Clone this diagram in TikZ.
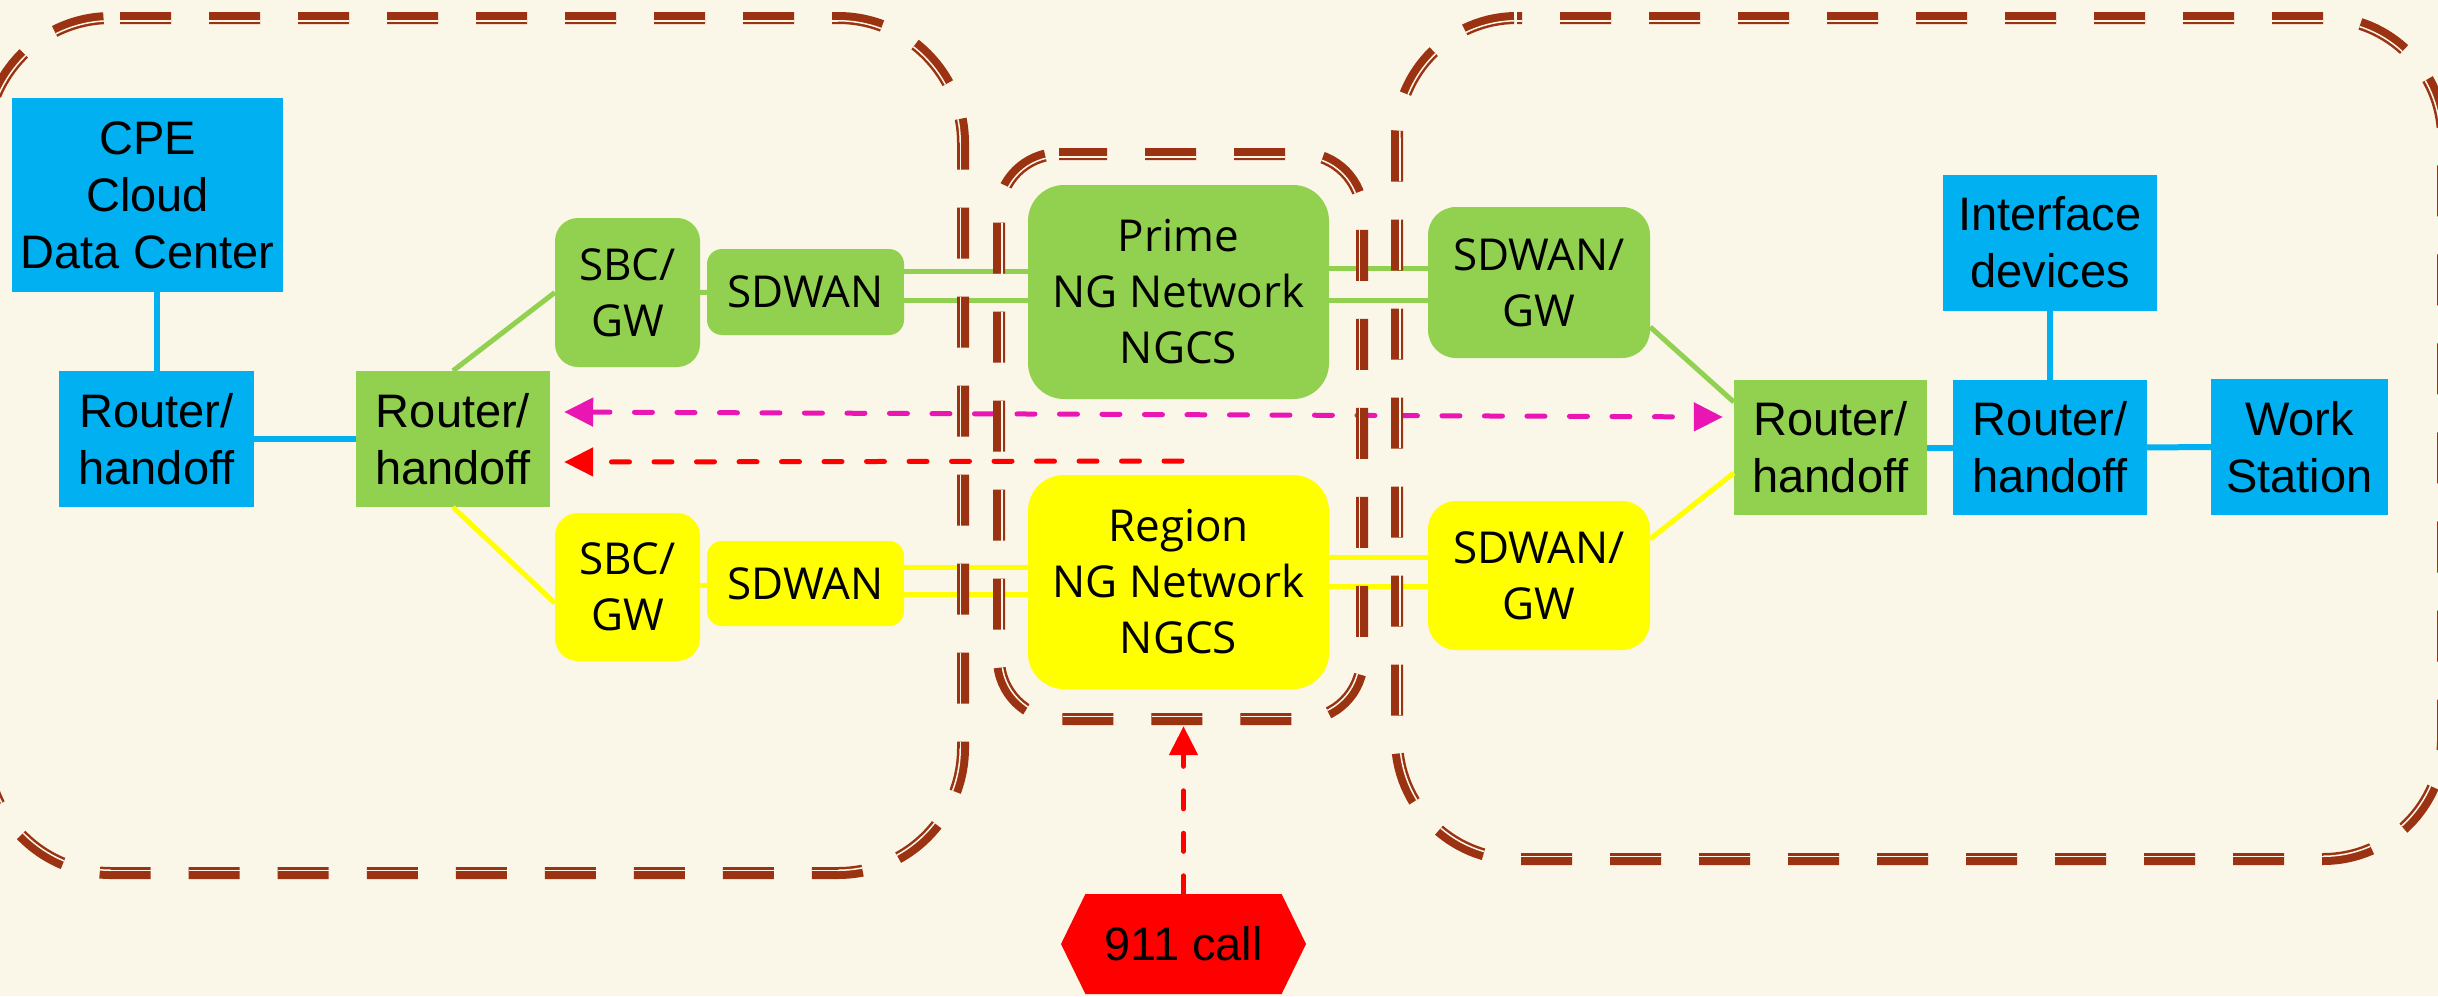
\documentclass[tikz,border=0pt]{standalone}
\usepackage{fontspec}
\usetikzlibrary{arrows.meta, shapes.symbols}
\newfontfamily\arialfont{Liberation Sans}
\newfontfamily\ngfont{Open Sans}
\newcommand\arialtext{\arialfont\fontsize{47pt}{57pt}\selectfont}
\newcommand\ngtext{\ngfont\fontsize{44pt}{56pt}\selectfont}

\definecolor{cream}{RGB}{250,246,232}
\definecolor{rimbrown}{RGB}{155,50,18}
\definecolor{cpeblue}{RGB}{0,176,240}
\definecolor{nggreen}{RGB}{146,208,80}
\definecolor{ngyellow}{RGB}{255,255,0}
\definecolor{pathpink}{RGB}{234,22,180}
\definecolor{callred}{RGB}{255,0,0}

% thin inner line of the thick-thin dashed rims, one side or bend at a time
\newcommand\ngstripe[2]{%
  \pgfmathsetmacro\frP{mod(#2,89)}%
  \draw[rimstripe, dash phase=\frP pt] #1;}
\newcommand\ngbend[4]{%
  \pgfmathsetmacro\frP{mod(#4,89)*\frK}%
  \pgfmathsetmacro\frOn{51*\frK}%
  \pgfmathsetmacro\frOff{38*\frK}%
  \draw[rimstripe, dash pattern=on \frOn pt off \frOff pt, dash phase=\frP pt]
    #1 arc[start angle=#2, end angle=#3, radius=\frR pt];}
% #1,#2 top left, #3,#4 bottom right, #5 corner radius, #6 dash phase
\newcommand\ngframe[6]{%
  \pgfmathsetmacro\frW{#3-#1-2*#5}%
  \pgfmathsetmacro\frH{#4-#2-2*#5}%
  \pgfmathsetmacro\frQ{#5*pi/2}%
  \pgfmathsetmacro\frR{#5-2.75}%
  \pgfmathsetmacro\frK{\frR/#5}%
  \draw[rimline, dash phase=#6pt] (#1+#5,#2) -- (#3-#5,#2)
    arc[start angle=90, end angle=0, radius=#5pt] -- (#3,#4-#5)
    arc[start angle=0, end angle=-90, radius=#5pt] -- (#1+#5,#4)
    arc[start angle=-90, end angle=-180, radius=#5pt] -- (#1,#2+#5)
    arc[start angle=180, end angle=90, radius=#5pt] -- cycle;
  \ngstripe{(#1+#5,#2+2.75) -- (#3-#5,#2+2.75)}{#6}%
  \ngbend{(#3-#5,#2+2.75)}{90}{0}{#6+\frW}%
  \ngstripe{(#3-2.75,#2+#5) -- (#3-2.75,#4-#5)}{#6+\frW+\frQ}%
  \ngbend{(#3-2.75,#4-#5)}{0}{-90}{#6+\frW+\frQ+\frH}%
  \ngstripe{(#3-#5,#4-2.75) -- (#1+#5,#4-2.75)}{#6+\frW+2*\frQ+\frH}%
  \ngbend{(#1+#5,#4-2.75)}{-90}{-180}{#6+2*\frW+2*\frQ+\frH}%
  \ngstripe{(#1+2.75,#4-#5) -- (#1+2.75,#2+#5)}{#6+2*\frW+3*\frQ+\frH}%
  \ngbend{(#1+2.75,#2+#5)}{180}{90}{#6+2*\frW+3*\frQ+2*\frH}%
}

\begin{document}
\begin{tikzpicture}[x=1pt, y=-1pt,
    box/.style={draw=none, inner sep=0pt, align=center},
    cpebox/.style={box, fill=cpeblue, font=\arialtext},
    hubbox/.style={box, fill=nggreen, font=\arialtext},
    primebox/.style={box, fill=nggreen, font=\ngtext},
    regionbox/.style={box, fill=ngyellow, font=\ngtext},
    cpelink/.style={draw=cpeblue, line width=6pt},
    greenlink/.style={draw=nggreen, line width=5pt},
    yellowlink/.style={draw=ngyellow, line width=5pt},
    trunk/.style={double=cream, double distance=#1},
    pinkarrow/.style={draw=pathpink, line width=5pt, line cap=round,
      dash pattern=on 18pt off 24.5pt, >={Triangle[length=29pt, width=28pt]}},
    callarrow/.style={pinkarrow, draw=callred},
    rimline/.style={draw=rimbrown, line width=12pt, dash pattern=on 51pt off 38pt},
    rimstripe/.style={draw=cream, line width=1.5pt, dash pattern=on 51pt off 38pt}]
  \useasboundingbox (0,0) rectangle (2438,996);
  \fill[cream] (0,0) rectangle (2438,996);
  \clip (0,0) rectangle (2438,996);

  % customer premises
  \node[cpebox, minimum width=271pt, minimum height=194pt] (cpe) at (147.5,195) {CPE\\Cloud\\Data Center};
  \node[cpebox, minimum width=195pt, minimum height=136pt] (rtA) at (156.5,439) {Router/\\handoff};
  \node[hubbox, minimum width=194pt, minimum height=136pt] (rtB) at (453,439) {Router/\\handoff};

  % prime path
  \node[primebox, rounded corners=23pt, minimum width=145pt, minimum height=149pt] (sbcA) at (627.5,292.5) {SBC/\\GW};
  \node[primebox, rounded corners=15pt, minimum width=197pt, minimum height=86pt] (sdA) at (805.5,292) {SDWAN};
  \node[primebox, rounded corners=36pt, minimum width=301pt, minimum height=214pt] (prime) at (1178.5,292) {Prime\\NG Network\\NGCS};
  \node[primebox, rounded corners=28pt, minimum width=222pt, minimum height=151pt] (sgA) at (1539,282.5) {SDWAN/\\GW};

  % region path
  \node[regionbox, rounded corners=23pt, minimum width=145pt, minimum height=148pt] (sbcB) at (627.5,587) {SBC/\\GW};
  \node[regionbox, rounded corners=15pt, minimum width=197pt, minimum height=85pt] (sdB) at (805.5,583.5) {SDWAN};
  \node[regionbox, rounded corners=36pt, minimum width=301pt, minimum height=214pt] (region) at (1178.5,582) {Region\\NG Network\\NGCS};
  \node[regionbox, rounded corners=28pt, minimum width=222pt, minimum height=149pt] (sgB) at (1539,575.5) {SDWAN/\\GW};

  % answering point
  \node[hubbox, minimum width=193pt, minimum height=135pt] (rtC) at (1830.5,447.5) {Router/\\handoff};
  \node[cpebox, minimum width=194pt, minimum height=135pt] (rtD) at (2050,447.5) {Router/\\handoff};
  \node[cpebox, minimum width=214pt, minimum height=136pt] (intf) at (2050,242.5) {Interface\\devices};
  \node[cpebox, minimum width=177pt, minimum height=136pt] (ws) at (2299.5,447) {Work\\Station};

  \node[box, fill=callred, font=\arialtext, signal, signal to=west and east, signal pointer angle=128,
    minimum width=245pt, minimum height=100pt] (call) at (1183.5,944) {911 call};

  \draw[cpelink] (rtA.north |- cpe.south) -- (rtA.north);
  \draw[cpelink] (rtA) -- (rtB);
  \draw[cpelink] (rtC) -- (rtD);
  \draw[cpelink] (rtD) -- (ws);
  \draw[cpelink] (intf) -- (rtD);

  \draw[greenlink] (rtB.north) -- (sbcA.west);
  \draw[greenlink] (sbcA) -- (sdA);
  \draw[greenlink, trunk=24pt] ([yshift=6.5pt]sdA.east) -- ([yshift=6.5pt]prime.west);
  \draw[greenlink, trunk=27pt] ([yshift=8pt]prime.east) -- ([yshift=-1.5pt]sgA.west);
  \draw[greenlink] ([yshift=-44.5pt]sgA.east) -- ([yshift=45.5pt]rtC.west);

  \draw[yellowlink] (rtB.south) -- ([yshift=-16pt]sbcB.west);
  \draw[yellowlink] (sbcB) -- (sdB);
  \draw[yellowlink, trunk=22pt] ([yshift=3pt]sdB.east) -- ([yshift=1.5pt]region.west);
  \draw[yellowlink, trunk=24pt] ([yshift=10.5pt]region.east) -- ([yshift=4pt]sgB.west);
  \draw[yellowlink] ([yshift=36.5pt]sgB.east) -- ([yshift=-25.5pt]rtC.west);

  % call flow
  \coordinate (split) at (1182,461);
  \draw[pinkarrow, <->] ([xshift=14pt, yshift=27pt]rtB.east) -- ([xshift=-11pt, yshift=30.5pt]rtC.west);
  \draw[callarrow, ->] (split) -- ([xshift=14pt, yshift=-23pt]rtB.east);
  \draw[callarrow, ->, shorten >=37pt] (call.north) -- (call.north |- region.south);

  % network domains
  \ngframe{-14}{18}{963}{873}{125}{80}
  \ngframe{999}{154}{1362}{719}{60}{3}
  \ngframe{1397}{18}{2443}{859}{120}{46}
\end{tikzpicture}
\end{document}
